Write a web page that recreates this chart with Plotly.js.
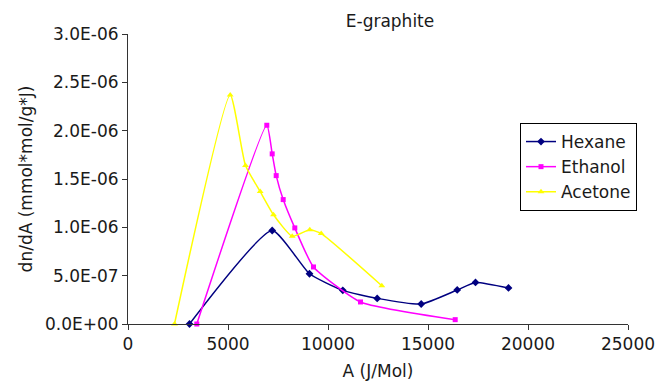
<!DOCTYPE html>
<html>
<head>
<meta charset="utf-8">
<script src="https://cdn.plot.ly/plotly-3.0.1.min.js"></script>
<style>
  html, body { margin: 0; padding: 0; background: #ffffff; }
  #chart { width: 655px; height: 386px; }
</style>
</head>
<body>
<div id="chart"></div>
<script>
// Differential adsorption dn/dA versus adsorption potential A on E-graphite
const hexaneA  = [3075, 7210, 9075, 10740, 12460, 14660, 16460, 17375, 19025];
const hexaneY  = [0, 0.967e-6, 0.52e-6, 0.348e-6, 0.265e-6, 0.207e-6, 0.352e-6, 0.43e-6, 0.373e-6];

const ethanolA = [3440, 6940, 7210, 7410, 7760, 8340, 9275, 11625, 16360];
const ethanolY = [0, 2.056e-6, 1.76e-6, 1.535e-6, 1.287e-6, 0.994e-6, 0.59e-6, 0.228e-6, 0.045e-6];

const acetoneA = [2325, 5110, 5875, 6610, 7275, 8210, 9090, 9660, 12690];
const acetoneY = [0, 2.37e-6, 1.64e-6, 1.37e-6, 1.13e-6, 0.907e-6, 0.976e-6, 0.935e-6, 0.396e-6];

const xTickVals = [0, 5000, 10000, 15000, 20000, 25000];
const yTickVals = [0, 0.5e-6, 1.0e-6, 1.5e-6, 2.0e-6, 2.5e-6, 3.0e-6];
const yTickText = ['0.0E+00', '5.0E-07', '1.0E-06', '1.5E-06', '2.0E-06', '2.5E-06', '3.0E-06'];

const FONT = 'DejaVu Sans, Verdana, sans-serif';
const FS = 17;
const INK = '#1a1a1a';

function series(name, xs, ys, color, symbol, size) {
  return {
    type: 'scatter',
    mode: 'lines+markers',
    name: name,
    x: xs,
    y: ys,
    cliponaxis: false,
    line: { color: color, width: 1.5, shape: 'spline', smoothing: 0.5 },
    marker: { color: color, symbol: symbol, size: size }
  };
}

const data = [
  series('Hexane',  hexaneA,  hexaneY,  '#000080', 'diamond', 6),
  series('Ethanol', ethanolA, ethanolY, '#ff00ff', 'square', 5),
  series('Acetone', acetoneA, acetoneY, '#ffff00', 'triangle-up', 6)
];

const layout = {
  width: 655,
  height: 386,
  margin: { l: 128, r: 27, t: 34, b: 62 },
  paper_bgcolor: '#ffffff',
  plot_bgcolor: '#ffffff',
  font: { family: FONT, size: FS, color: INK },
  title: {
    text: 'E-graphite',
    font: { family: FONT, size: FS, color: INK },
    x: 0.524, xref: 'paper', xanchor: 'center',
    y: 0.945, yref: 'container', yanchor: 'middle'
  },
  showlegend: true,
  legend: {
    xref: 'paper', xanchor: 'right',
    x: (637 - 128) / 500,
    yanchor: 'top',
    y: (324 - 123) / 290,
    bgcolor: '#ffffff',
    bordercolor: '#000000',
    borderwidth: 1,
    font: { family: FONT, size: FS, color: INK },
    itemwidth: 30,
    tracegroupgap: 0
  },
  xaxis: {
    range: [0, 25000],
    tickvals: xTickVals,
    ticktext: xTickVals.map(String),
    ticks: 'outside', ticklen: 5, tickwidth: 1, tickcolor: '#333333',
    ticklabeloverflow: 'allow',
    showline: true, linecolor: '#333333', linewidth: 1,
    showgrid: false, zeroline: false,
    tickfont: { family: FONT, size: FS, color: INK },
    title: { text: 'A (J/Mol)', font: { family: FONT, size: FS, color: INK }, standoff: 11 },
    automargin: false
  },
  yaxis: {
    range: [0, 3.0e-6],
    tickvals: yTickVals,
    ticktext: yTickText,
    ticks: 'outside', ticklen: 5, tickwidth: 1, tickcolor: '#333333',
    ticklabeloverflow: 'allow',
    showline: true, linecolor: '#333333', linewidth: 1,
    showgrid: false, zeroline: false,
    tickfont: { family: FONT, size: FS, color: INK },
    title: { text: 'dn/dA (mmol*mol/g*J)', font: { family: FONT, size: FS, color: INK }, standoff: 7 },
    automargin: false
  }
};

Plotly.newPlot('chart', data, layout, { displayModeBar: false, staticPlot: true });
</script>
</body>
</html>
